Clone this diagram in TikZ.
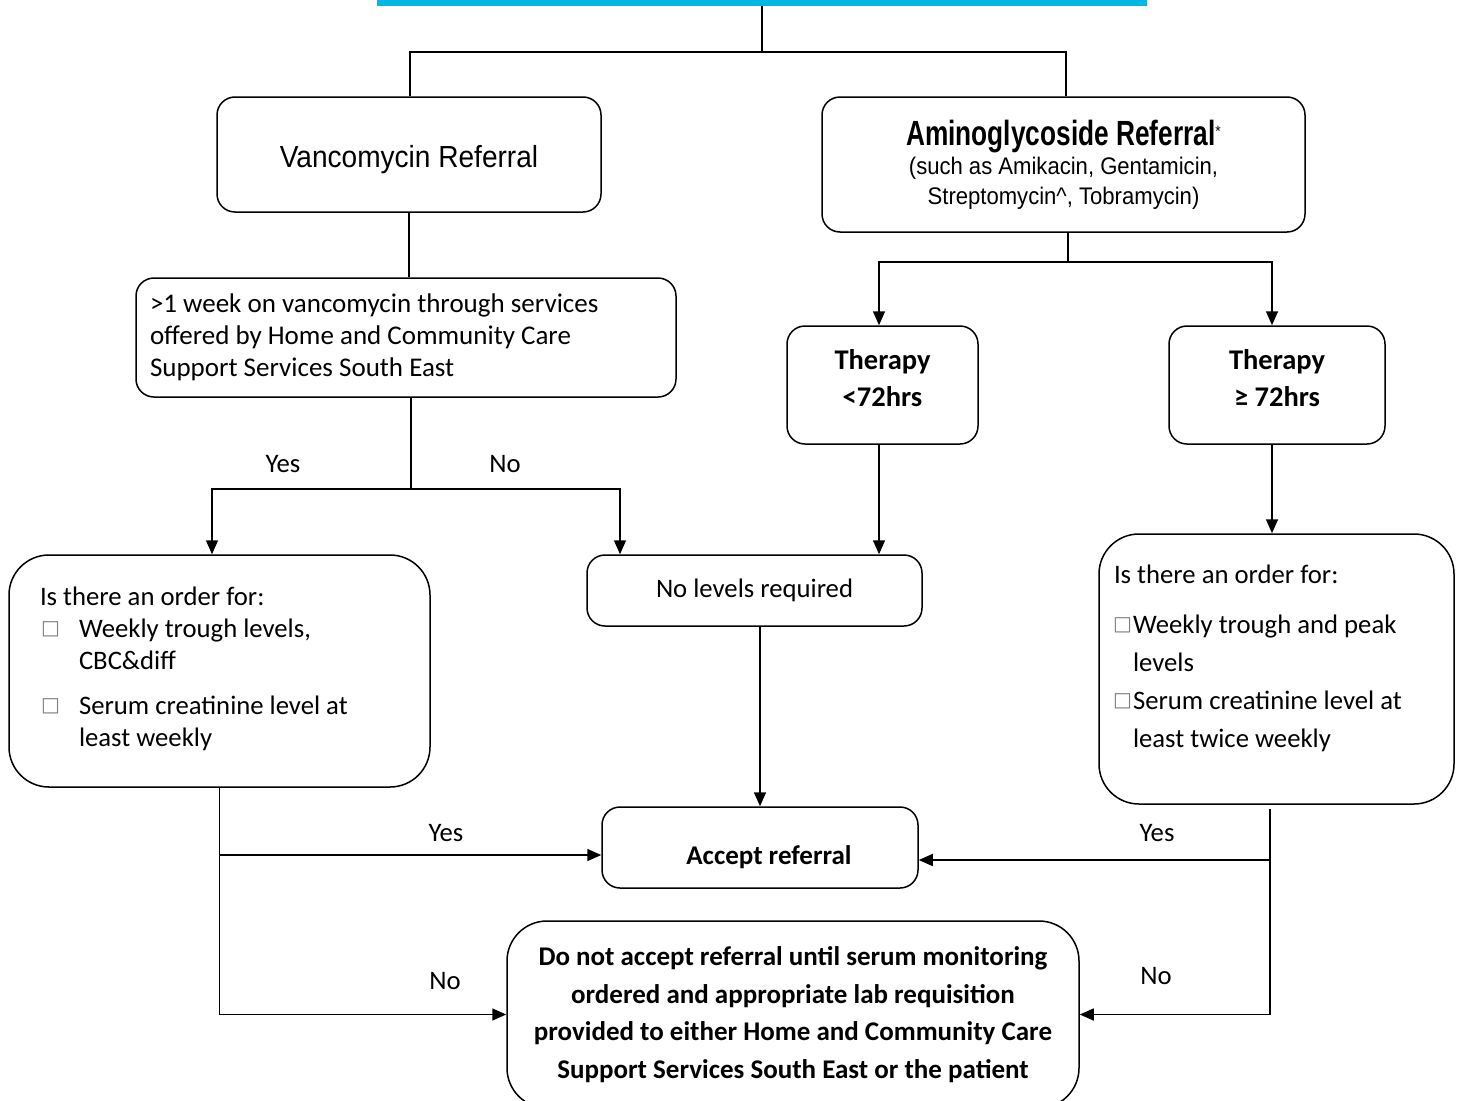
\documentclass[tikz,border=0pt]{standalone}
\usepackage{fontspec}
\setmainfont{Carlito}
\newfontfamily\narrowfont[FakeStretch=0.92]{Liberation Sans}
\newfontfamily\narrowboldfont[FakeStretch=0.75]{Liberation Sans Bold}
\newfontfamily\symfont{DejaVu Sans}
\usetikzlibrary{arrows.meta}
\definecolor{titlecyan}{RGB}{0,184,228}
\newcommand{\boxbul}{\raisebox{2.5pt}{\symfont\color{gray}\fontsize{20}{20}\selectfont\char"25A1}}
\begin{document}
\begin{tikzpicture}[x=1pt,y=-1pt,
  box/.style={draw,line width=1.5pt,rounded corners=18pt,inner sep=0pt},
  bigbox/.style={box,rounded corners=40pt},
  conn/.style={line width=1.5pt},
  arr/.style={conn,-{Triangle[length=14pt,width=12pt]}},
  lbl/.style={font=\fontsize{26.7}{30}\selectfont}]
\useasboundingbox (0,0) rectangle (1458,1100);
\clip (0,0) rectangle (1458,1100);

% nodes
\node[fill=titlecyan,minimum width=770pt,minimum height=40pt,inner sep=0pt] (title) at (762,-14) {};
\node[box,minimum width=384pt,minimum height=115pt,text height=32.7pt,text depth=6.3pt,font=\narrowfont\fontsize{30.5}{34}\selectfont] (vanco) at (409,154.5) {Vancomycin Referral};
\node[box,minimum width=483pt,minimum height=135pt,align=center,font=\narrowfont\fontsize{24}{30}\selectfont] (amino) at (1063.5,164.5)
  {{\narrowboldfont\fontsize{35}{36}\selectfont Aminoglycoside Referral}{\fontsize{15}{15}\selectfont\raisebox{9pt}{*}}\\[-0.7pt]
   (such as Amikacin, Gentamicin,\\ Streptomycin\textasciicircum, Tobramycin)};
\node[box,minimum width=540pt,minimum height=119pt,text width=512pt,align=flush left,font=\fontsize{27}{32}\selectfont] (week) at (406,337.5)
  {>1 week on vancomycin through services\\ offered by Home and Community Care\\ Support Services South East};
\node[box,minimum width=191pt,minimum height=118pt,align=center,text depth=14pt,font=\bfseries\fontsize{28.5}{37.5}\selectfont] (ther1) at (882.5,385) {Therapy\\<72hrs};
\node[box,minimum width=216pt,minimum height=118pt,align=center,text depth=14pt,font=\bfseries\fontsize{28.5}{37.5}\selectfont] (ther2) at (1277,385) {Therapy\\≥ 72hrs};
\node[bigbox,minimum width=421pt,minimum height=232pt] (qleft) at (219.5,671)
  {\parbox[c][232pt][t]{359pt}{\fontsize{26.7}{32}\selectfont\raggedright
   \vspace*{27.6pt}%
   \strut Is there an order for:\\
   \makebox[39pt][l]{\hspace{1pt}\boxbul}Weekly trough levels,\\
   \hspace*{39pt}CBC\&diff\par\vspace{13pt}
   \makebox[39pt][l]{\hspace{1pt}\boxbul}Serum creatinine level at\\
   \hspace*{39pt}least weekly}};
\node[box,minimum width=335pt,minimum height=71pt,font=\fontsize{26.7}{32}\selectfont] (nolev) at (754.5,590.5) {No levels required};
\node[bigbox,minimum width=355pt,minimum height=270pt] (qright) at (1276.5,669)
  {\parbox[c][270pt][t]{325pt}{\fontsize{26.7}{38}\selectfont\raggedright
   \vspace*{22.4pt}%
   \strut Is there an order for:\par\vspace{12pt}
   \makebox[19pt][l]{\hspace{-1pt}\boxbul}Weekly trough and peak\\
   \hspace*{19pt}levels\\
   \makebox[19pt][l]{\hspace{-1pt}\boxbul}Serum creatinine level at\\
   \hspace*{19pt}least twice weekly}};
\node[box,minimum width=316pt,minimum height=81pt,text height=40pt,text depth=6pt,font=\bfseries\fontsize{27}{32}\selectfont] (accept) at (760,847.5) {\hspace*{18pt}Accept referral};
\node[bigbox,minimum width=572pt,minimum height=187pt,align=center,font=\bfseries\fontsize{27}{37.5}\selectfont] (dont) at (793,1014.5)
  {Do not accept referral until serum monitoring\\ ordered and appropriate lab requisition\\ provided to either Home and Community Care\\ Support Services South East or the patient};

% labels
\node[lbl] (yes1) at (283,464) {Yes};
\node[lbl] (no1) at (505,464) {No};
\node[lbl] (yes2) at (446,833) {Yes};
\node[lbl] (no2) at (445,981) {No};
\node[lbl] (yes3) at (1157,833) {Yes};
\node[lbl] (no3) at (1156,976) {No};

% connectors
\coordinate (j1) at (762,52);
\draw[conn] (title.south) -- (j1);
\coordinate (vN) at ([xshift=1pt]vanco.north);
\coordinate (aN2) at ([xshift=2.5pt]amino.north);
\draw[conn] (vN) |- (j1) -| (aN2);
\draw[conn] (vanco.south) -- (vanco.south |- week.north);

\coordinate (j2) at (411,489);
\draw[conn] (week.south -| j2) -- (j2);
\coordinate (aQ) at ([xshift=-7.5pt]qleft.north);
\coordinate (aN) at ([xshift=-134.5pt]nolev.north);
\draw[arr] (j2) -| (aQ);
\draw[arr] (j2) -| (aN);

\coordinate (j3) at (1068,262);
\draw[conn] (amino.south -| j3) -- (j3);
\coordinate (aT1) at ([xshift=-3.5pt]ther1.north);
\coordinate (aT2) at ([xshift=-5pt]ther2.north);
\draw[arr] (j3) -| (aT1);
\draw[arr] (j3) -| (aT2);
\draw[arr] (ther1.south -| aT1) -- (nolev.north -| aT1);
\draw[arr] (ther2.south -| aT2) -- (qright.north -| aT2);
\draw[arr] (nolev.south -| accept.north) -- (accept.north);

\coordinate (accL) at ([yshift=-7.5pt]accept.west);
\coordinate (accR) at ([yshift=-12.5pt]accept.east);
\draw[conn] (qleft.south) -- (qleft.south |- dont.west);
\draw[arr] (qleft.south |- accL) -- (accL);
\draw[arr] (qleft.south |- dont.west) -- (dont.west);
\coordinate (rv) at ([xshift=-6.5pt,yshift=-4pt]qright.south);
\draw[conn] (rv) -- (rv |- dont.east);
\draw[arr] (rv |- accR) -- (accR);
\draw[arr] (rv |- dont.east) -- (dont.east);
\end{tikzpicture}
\end{document}
